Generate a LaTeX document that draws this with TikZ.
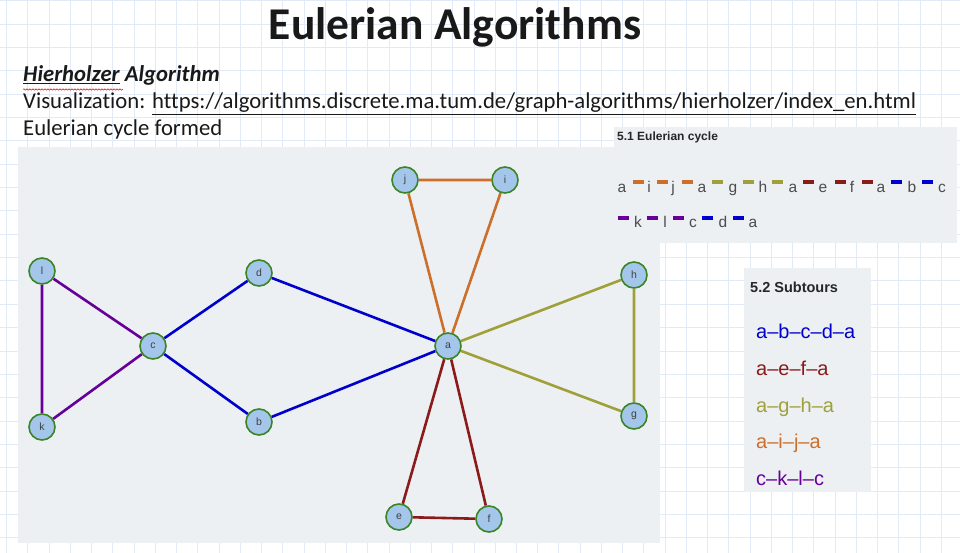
\documentclass[tikz,border=0pt]{standalone}
\usepackage{fontspec}
\setmainfont{Carlito}[Ligatures={TeX,NoCommon}]
\newfontfamily\arialfont{Liberation Sans}
\usetikzlibrary{decorations.pathmorphing}

\definecolor{gridline}{HTML}{E3EAF7}
\definecolor{panelgray}{HTML}{ECF0F3}
\definecolor{vertexfill}{HTML}{A4C6EA}
\definecolor{vertexline}{HTML}{3B8526}
\definecolor{tourblue}{HTML}{0000CC}
\definecolor{tourred}{HTML}{8B1A1A}
\definecolor{tourolive}{HTML}{A0A03A}
\definecolor{tourorange}{HTML}{CC6F2A}
\definecolor{tourpurple}{HTML}{660099}

\tikzset{
  vertex/.style={circle, draw=vertexline, line width=1.6pt, fill=vertexfill,
    minimum size=26pt, inner sep=0pt, text=black!75,
    font=\arialfont\fontsize{10.5}{12}\selectfont},
  tour/.style={line width=2.6pt},
  dashbar/.style={rectangle, inner sep=0pt, minimum width=11pt, minimum height=3.3pt},
  seqletter/.style={anchor=base, inner sep=0pt, text=black!70,
    font=\arialfont\fontsize{15.5}{18}\selectfont},
  subtour/.style={anchor=base west, inner sep=0pt,
    font=\arialfont\fontsize{20}{22}\selectfont},
  boxhead/.style={anchor=base west, inner sep=0pt, text=black!85},
  doctext/.style={anchor=base west, inner sep=0pt, text=black!90,
    font=\fontsize{22.7}{26}\selectfont}
}

\begin{document}
\begin{tikzpicture}[x=1pt,y=-1pt]
\useasboundingbox (0,0) rectangle (960,553);
\fill[white] (0,0) rectangle (960,553);
% Drawing grid paper
\foreach \k in {0,...,45}
  \draw[gridline, line width=0.9pt] (6.7+21.24*\k,0) -- (6.7+21.24*\k,553);
\foreach \k in {0,...,23}
  \draw[gridline, line width=0.9pt] (0,0.7+23.35*\k) -- (960,0.7+23.35*\k);
% Done with grid; drawing panels
\fill[panelgray] (18,147) rectangle (660,543);
\fill[panelgray] (614,127) rectangle (957,243);
\fill[panelgray] (744,268) rectangle (871,492);
% Heading and notes
\node[anchor=base, inner sep=0pt, font=\fontsize{45.5}{50}\selectfont\bfseries, text=black!90]
  (title) at (455,40) {Eulerian Algorithms};
\node[doctext, font=\fontsize{22.7}{26}\selectfont\bfseries\itshape]
  (algname) at (23,81.5) {\underline{Hierholzer} Algorithm};
\draw[red!85!black, line width=0.5pt, decorate,
  decoration={snake, amplitude=0.7pt, segment length=3pt}]
  (algname.base west) ++(0,8) -- ++(100,0);
\node[doctext] (vislink) at (23,108.5)
  {Visualizat\kern0pt ion: \underline{https://algorithms.discrete.ma.tum.de/graph-algorithms/hierholzer/index\_en.html}};
\node[doctext] (cyclenote) at (23,136) {Eulerian cycle formed};
% Drawing vertices
\node[vertex] (j) at (405,180) {j};
\node[vertex] (i) at (505,180) {i};
\node[vertex] (l) at (42,271) {l};
\node[vertex] (d) at (259,273) {d};
\node[vertex] (h) at (634,275) {h};
\node[vertex] (c) at (153,346) {c};
\node[vertex] (a) at (448,346) {a};
\node[vertex] (g) at (634,416) {g};
\node[vertex] (k) at (42,427) {k};
\node[vertex] (b) at (259,422) {b};
\node[vertex] (e) at (399,517) {e};
\node[vertex] (f) at (489,519) {f};
% Drawing subtour edges
\draw[tour, tourblue] (a) -- (b) -- (c) -- (d) -- (a);
\draw[tour, tourred] (a) -- (e) -- (f) -- (a);
\draw[tour, tourolive] (a) -- (g) -- (h) -- (a);
\draw[tour, tourorange] (a) -- (i) -- (j) -- (a);
\draw[tour, tourpurple] (c) -- (k) -- (l) -- (c);
% Done with graph; drawing Eulerian cycle box
\node[boxhead, font=\arialfont\fontsize{12}{14}\selectfont\bfseries]
  (cyclehead) at (617,141) {5.1 Eulerian cycle};
\foreach \ch/\x [count=\n] in {a/622,i/649,j/673,a/702,g/733,h/763,a/793,e/823,f/852,a/881,b/912,c/942}
  \node[seqletter] (seqA\n) at (\x,192.5) {\ch};
\foreach \x/\col [count=\n] in {638/tourorange,662/tourorange,687/tourorange,717/tourolive,748/tourolive,
    777/tourolive,808/tourred,840/tourred,867/tourred,896/tourblue,927/tourblue}
  \node[dashbar, fill=\col] (barA\n) at (\x,182) {};
\foreach \ch/\x [count=\n] in {k/638,l/665,c/693,d/723,a/753}
  \node[seqletter] (seqB\n) at (\x,228) {\ch};
\foreach \x/\col [count=\n] in {623/tourpurple,652/tourpurple,678/tourpurple,707/tourblue,738/tourblue}
  \node[dashbar, fill=\col] (barB\n) at (\x,218) {};
% Subtours box
\node[boxhead, font=\arialfont\fontsize{14.5}{17}\selectfont\bfseries]
  (subhead) at (750,292) {5.2 Subtours};
\node[subtour, text=tourblue] (subblue) at (756,338)
  {a\textendash b\textendash c\textendash d\textendash a};
\node[subtour, text=tourred] (subred) at (756,375) {a\textendash e\textendash f\textendash a};
\node[subtour, text=tourolive] (subolive) at (756,412) {a\textendash g\textendash h\textendash a};
\node[subtour, text=tourorange] (suborange) at (756,448) {a\textendash i\textendash j\textendash a};
\node[subtour, text=tourpurple] (subpurple) at (756,485) {c\textendash k\textendash l\textendash c};
% Done with boxes
\end{tikzpicture}
\end{document}
